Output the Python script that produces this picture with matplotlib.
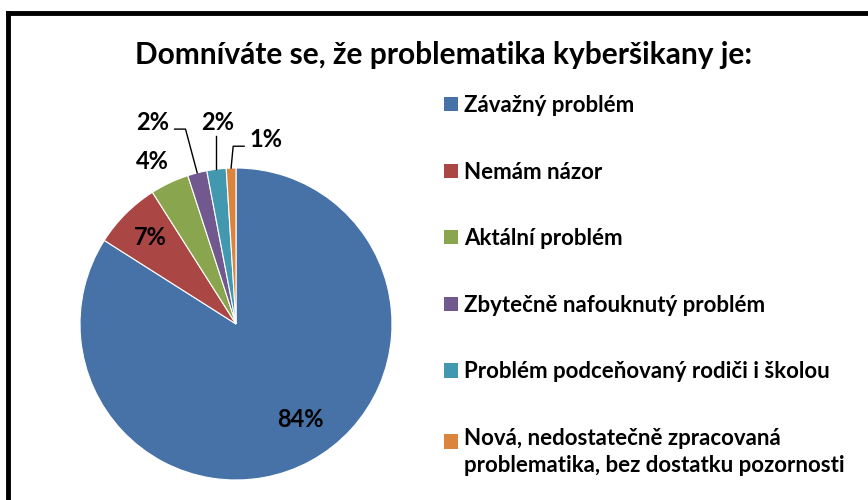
import numpy as np
import matplotlib.pyplot as plt
from matplotlib.patches import Patch, Rectangle
from matplotlib.lines import Line2D
from matplotlib.legend_handler import HandlerPatch

plt.rcParams['font.family'] = ['Lato', 'DejaVu Sans']
plt.rcParams['font.weight'] = 'bold'

title = 'Domníváte se, že problematika kyberšikany je:'
labels = ['Závažný problém', 'Nemám názor', 'Aktální problém',
          'Zbytečně nafouknutý problém', 'Problém podceňovaný rodiči i školou',
          'Nová, nedostatečně zpracovaná\nproblematika, bez dostatku pozornosti']
values = [84, 7, 4, 2, 2, 1]
colors = ['#4672A8', '#AA4643', '#89A54E', '#71588F', '#4198AF', '#DB843D']

fig = plt.figure(figsize=(8.68, 5), dpi=100)
W, H = 868, 500

# pie: centre (236, 324) px, radius 156 px
ax = fig.add_axes([80 / W, 20 / H, 312 / W, 312 / H])
wedges, _ = ax.pie(values, colors=colors, startangle=90, counterclock=False,
                   radius=1, wedgeprops=dict(linewidth=0.8, edgecolor='white'))
ax.set_xlim(-1, 1)
ax.set_ylim(-1, 1)
ax.set_aspect('equal')
ax.axis('off')

# label placement: (radius, angle shift in deg, leader type)
place = [(0.74, 5, None), (0.78, 0, None), (1.17, 2, None),
         (1.40, 8, 'elbow'), (1.30, -2, 'straight'), (1.20, -11, 'elbow')]
total = sum(values)
for w, v, (r, shift, lead) in zip(wedges, values, place):
    mid = np.deg2rad((w.theta1 + w.theta2) / 2)
    ang = mid + np.deg2rad(shift)
    tx, ty = r * np.cos(ang), r * np.sin(ang)
    ax.text(tx, ty, f'{v / total * 100:.0f}%', ha='center', va='center',
            fontsize=17, fontweight='bold', color='black', clip_on=False)
    if lead:
        ex, ey = np.cos(mid), np.sin(mid)
        if lead == 'straight':
            xs, ys = [ex, ex], [ey, ty - 0.09]
        else:
            side = 1 if tx < ex else -1
            sx = tx + side * 0.14
            sy = ty - 0.045
            xs = [sx, sx + side * 0.07, ex]
            ys = [sy, sy, ey]
        ax.plot(xs, ys, color='black', lw=1, clip_on=False)

fig.text(444 / W, 1 - 55 / H, title, ha='center', va='center',
         fontsize=21.5, fontweight='bold')


# two-line entry: put the square next to the first line, like Excel does
def top_square(legend, orig_handle, xdescent, ydescent, width, height, fontsize):
    return Rectangle((-xdescent, -ydescent + 0.5 * fontsize), width, height)


handles = [Patch(facecolor=c, edgecolor='none') for c in colors]
leg = fig.legend(handles, labels, loc='upper left',
                 bbox_to_anchor=(444 / W, 1 - 95 / H), frameon=False,
                 fontsize=16, labelspacing=2.05, handlelength=0.62,
                 handleheight=0.62, handletextpad=0.3, borderpad=0,
                 borderaxespad=0,
                 handler_map={handles[-1]: HandlerPatch(patch_func=top_square)})
leg.get_texts()[-1].set_linespacing(1.35)

# outer frame (only left and top visible)
fig.add_artist(Line2D([8 / W, 8 / W], [0, 1 - 13 / H], color='black', lw=3.5))
fig.add_artist(Line2D([8 / W, 1], [1 - 13 / H, 1 - 13 / H], color='black', lw=3.5))

fig.savefig('out.png', dpi=100)
